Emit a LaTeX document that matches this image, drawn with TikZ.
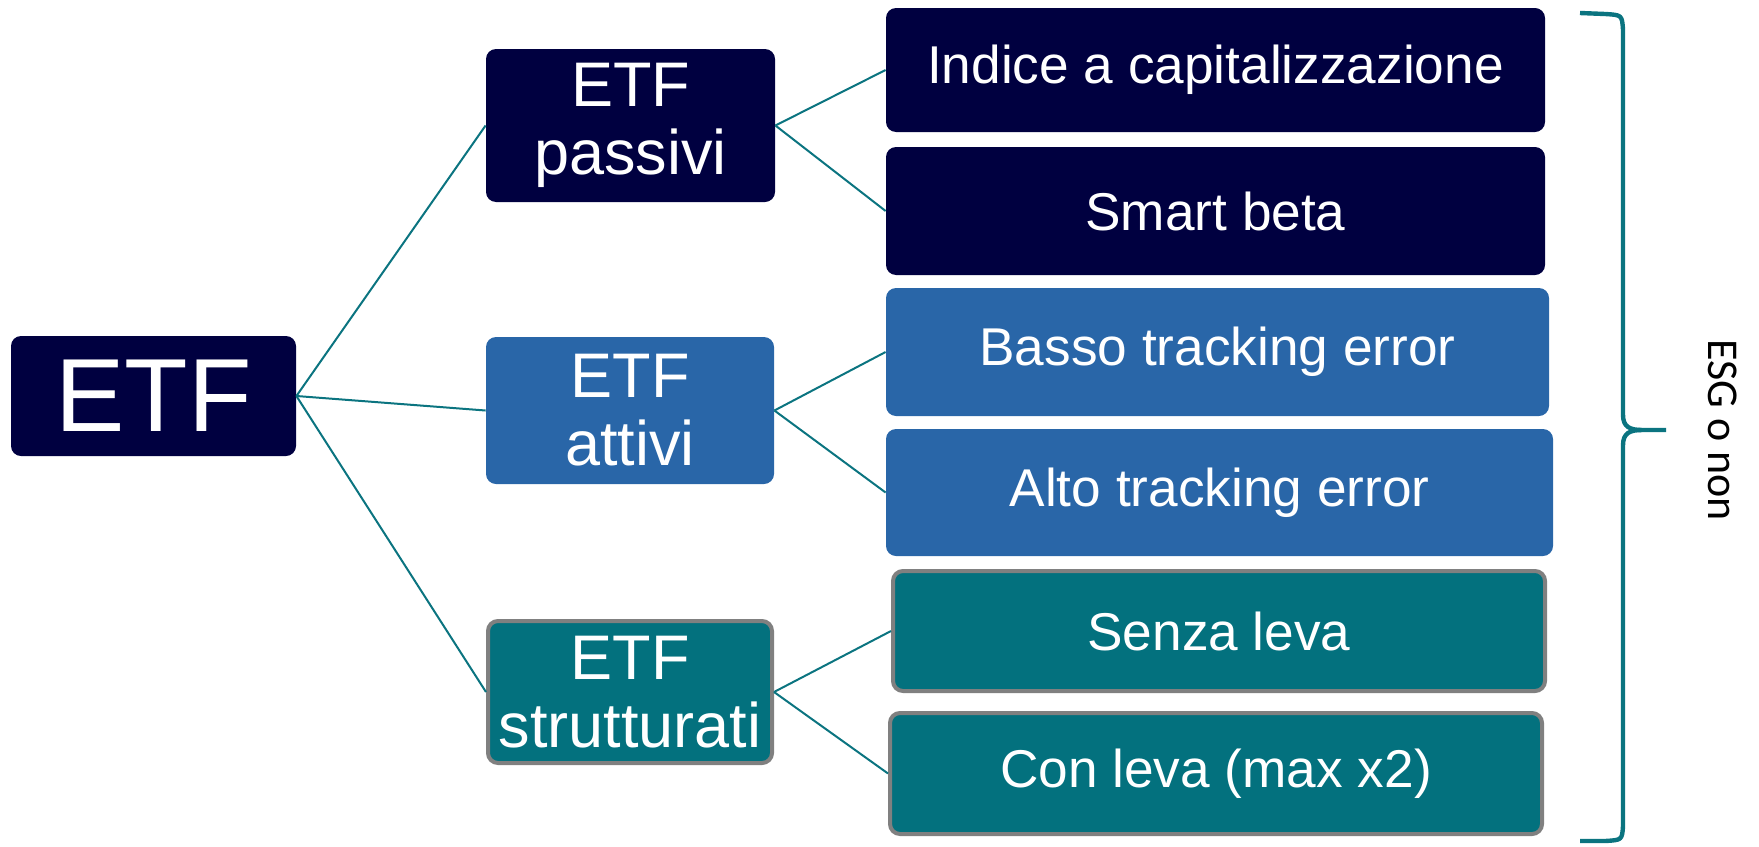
\documentclass[tikz,border=0pt]{standalone}
\usepackage{fontspec}
\setmainfont{Liberation Sans}
\newfontfamily\esgfont{Carlito}
\definecolor{navy}{HTML}{000040}
\definecolor{midblue}{HTML}{2966A8}
\definecolor{tealbox}{HTML}{03717E}
\definecolor{tealline}{HTML}{0B7480}
\definecolor{graybord}{HTML}{808080}
\begin{document}
\begin{tikzpicture}[x=0.5pt,y=-0.5pt,
  box/.style={rounded corners=5pt, inner sep=0pt, text=white, align=center},
  navybox/.style={box, fill=navy},
  bluebox/.style={box, fill=midblue},
  tealb/.style={box, fill=tealbox, draw=graybord, line width=2pt},
  midtxt/.style={font=\fontsize{31.5}{34}\selectfont},
  leaftxt/.style={font=\fontsize{26.6}{30}\selectfont},
  conn/.style={draw=tealline, line width=1pt}
]
\useasboundingbox (0,0) rectangle (1759,846);
% root
\node[navybox, minimum width=142.5pt, minimum height=60pt, font=\fontsize{52}{56}\selectfont] (root) at (153.5,396) {ETF};
% middle
\node[navybox, midtxt, minimum width=144.5pt, minimum height=76.5pt] (pas) at (630.5,125.5) {ETF\\passivi};
\node[bluebox, midtxt, minimum width=144pt, minimum height=73.5pt] (att) at (630,410.5) {ETF\\attivi};
\node[tealb, midtxt, minimum width=142pt, minimum height=71pt] (str) at (630,692) {ETF\\strutturati};
% leaves
\node[navybox, leaftxt, minimum width=329.5pt, minimum height=62pt] (l1) at (1215.5,70) {Indice a capitalizzazione};
\node[navybox, leaftxt, minimum width=329.5pt, minimum height=64pt] (l2) at (1215.5,211) {Smart beta};
\node[bluebox, leaftxt, minimum width=331.5pt, minimum height=64pt] (l3) at (1217.5,352) {Basso tracking error};
\node[bluebox, leaftxt, minimum width=333.5pt, minimum height=63.5pt] (l4) at (1219.5,492.5) {Alto tracking error};
\node[tealb, leaftxt, minimum width=326pt, minimum height=60pt] (l5) at (1219,631) {Senza leva};
\node[tealb, leaftxt, minimum width=326pt, minimum height=60.5pt] (l6) at (1216,773.5) {Con leva (max x2)};
% connectors
\path[conn] (root.east) -- (pas.west);
\path[conn] (root.east) -- (att.west);
\path[conn] (root.east) -- (str.west);
\path[conn] (pas.east) -- (l1.west);
\path[conn] (pas.east) -- (l2.west);
\path[conn] (att.east) -- (l3.west);
\path[conn] (att.east) -- (l4.west);
\path[conn] (str.east) -- (l5.west);
\path[conn] (str.east) -- (l6.west);
% brace
\coordinate (btop) at (1580,13);
\coordinate (btip) at (1666,430);
\coordinate (bbot) at (1580,841);
\draw[tealline, line width=2.2pt, line join=round]
  (btop) -- (1605,14) .. controls (1622,15) .. (1623,30) -- (1623,415)
  .. controls (1623,427) and (1630,430) .. (1642,430) -- (btip);
\draw[tealline, line width=2.2pt, line join=round]
  (1642,430) .. controls (1630,430) and (1623,433) .. (1623,445) -- (1623,826)
  .. controls (1622,840) .. (1605,841) -- (bbot);
\node[rotate=-90, font=\esgfont\fontsize{22}{26}\selectfont, text=black] (esg) at (1723,430) {ESG o non};
\end{tikzpicture}
\end{document}
